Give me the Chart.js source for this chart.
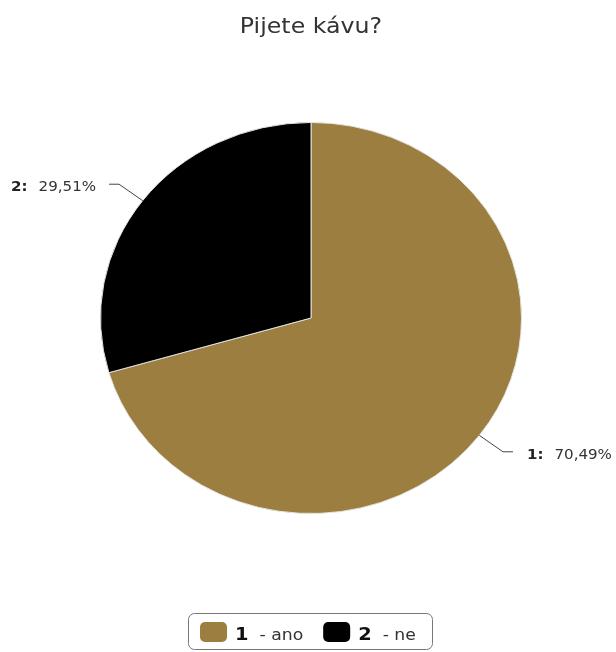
<!DOCTYPE html>
<html lang="cs">
<head>
    <meta charset="UTF-8">
    <title>Pijete kávu?</title>
    <script src="https://cdn.jsdelivr.net/npm/chart.js"></script>
    <style>
        body { margin: 0; background: #fff; }
    </style>
</head>
<body>
    <canvas id="myChart" width="616" height="652"></canvas>

<script>
    // odpovědi na otázku
    const chartTitle = "Pijete kávu?";
    const answerCodes = ["1", "2"];
    const answerNames = ["ano", "ne"];
    const answerShares = [70.49, 29.51];
    const answerColors = ["#9c7e41", "#000000"];

    const FONT = "'DejaVu Sans', sans-serif";
    const TEXT = "#333333";
    const SQUASH = 196 / 211;    // koláč je trochu zploštělý
    const STRETCH = 211 / 196;   // a písmo zase trochu roztažené do šířky

    function f_pct(v){
        return v.toFixed(2).replace(".", ",") + "%";
    }

    // text roztažený do šířky, vrací jeho šířku
    function f_text(ctx, str, x, y, align){
        const w = ctx.measureText(str).width * STRETCH;
        let left = x;
        if(align == "center") left = x - w / 2;
        if(align == "right") left = x - w;
        ctx.save();
        ctx.translate(left, y);
        ctx.scale(STRETCH, 1);
        ctx.textAlign = "left";
        ctx.textBaseline = "alphabetic";
        ctx.fillText(str, 0, 0);
        ctx.restore();
        return w;
    }
    function f_width(ctx, str){
        return ctx.measureText(str).width * STRETCH;
    }

    // zploští koláč na výšku
    const ovalPlugin = {
        id: "oval",
        beforeDatasetsDraw(chart){
            const a = chart.getDatasetMeta(0).data[0];
            const ctx = chart.ctx;
            ctx.save();
            ctx.translate(a.x, a.y);
            ctx.scale(1, SQUASH);
            ctx.translate(-a.x, -a.y);
        },
        afterDatasetsDraw(chart){
            chart.ctx.restore();
        }
    };

    // titulek, popisky s vodicí čarou a legenda dole
    const textPlugin = {
        id: "texts",
        afterDraw(chart){
            const ctx = chart.ctx;
            ctx.save();

            ctx.fillStyle = TEXT;
            ctx.font = "22px " + FONT;
            f_text(ctx, chartTitle, 311, 33, "center");

            const arcs = chart.getDatasetMeta(0).data;
            arcs.forEach(function(arc, i){
                const mid = (arc.startAngle + arc.endAngle) / 2;
                const r = arc.outerRadius;
                const cx = Math.cos(mid), sy = Math.sin(mid) * SQUASH;
                const x0 = arc.x + r * cx, y0 = arc.y + r * sy;
                const x1 = arc.x + r * 1.14 * cx, y1 = arc.y + r * 1.14 * sy;
                const right = cx >= 0;
                const x2 = x1 + (right ? 10 : -10);

                ctx.strokeStyle = "#444";
                ctx.lineWidth = 1;
                ctx.beginPath();
                ctx.moveTo(x0, y0);
                ctx.lineTo(x1, y1);
                ctx.lineTo(x2, y1);
                ctx.stroke();

                const bold = answerCodes[i] + ":";
                const rest = f_pct(answerShares[i]);
                const gap = 11;
                ctx.font = "bold 14px " + FONT;
                const wb = f_width(ctx, bold);
                ctx.font = "14px " + FONT;
                const wr = f_width(ctx, rest);
                const tx = right ? x2 + 14 : x2 - 13 - wb - gap - wr;
                const ty = y1 + 7;
                ctx.font = "bold 14px " + FONT;
                ctx.fillStyle = "#222";
                f_text(ctx, bold, tx, ty, "left");
                ctx.font = "14px " + FONT;
                ctx.fillStyle = TEXT;
                f_text(ctx, rest, tx + wb + gap, ty, "left");
            });

            // legenda v rámečku
            ctx.strokeStyle = "#777";
            ctx.lineWidth = 1;
            ctx.beginPath();
            ctx.roundRect(188.5, 613.5, 244, 36, 6);
            ctx.stroke();

            let x = 200;
            const base = 640;
            answerCodes.forEach(function(code, i){
                ctx.fillStyle = answerColors[i];
                ctx.beginPath();
                ctx.roundRect(x, 622, 27, 20, 5);
                ctx.fill();
                x += 35;
                ctx.fillStyle = "#111";
                ctx.font = "bold 18px " + FONT;
                x += f_text(ctx, code, x, base, "left") + 11;
                ctx.font = "16px " + FONT;
                ctx.fillStyle = TEXT;
                x += f_text(ctx, "- " + answerNames[i], x, base, "left") + 20;
            });

            ctx.restore();
        }
    };

    const ctx = document.getElementById("myChart").getContext("2d");
    const myChart = new Chart(ctx, {
        type: "pie",
        data: {
            labels: answerNames,
            datasets: [{
                data: answerShares,
                backgroundColor: answerColors,
                borderColor: "#e6e6e6",
                borderWidth: 1
            }]
        },
        options: {
            responsive: false,
            animation: false,
            layout: {
                padding: { left: 100, right: 94, top: 107, bottom: 123 }
            },
            plugins: {
                legend: { display: false },
                title: { display: false },
                tooltip: { enabled: false }
            }
        },
        plugins: [ovalPlugin, textPlugin]
    });
</script>
</body>
</html>
